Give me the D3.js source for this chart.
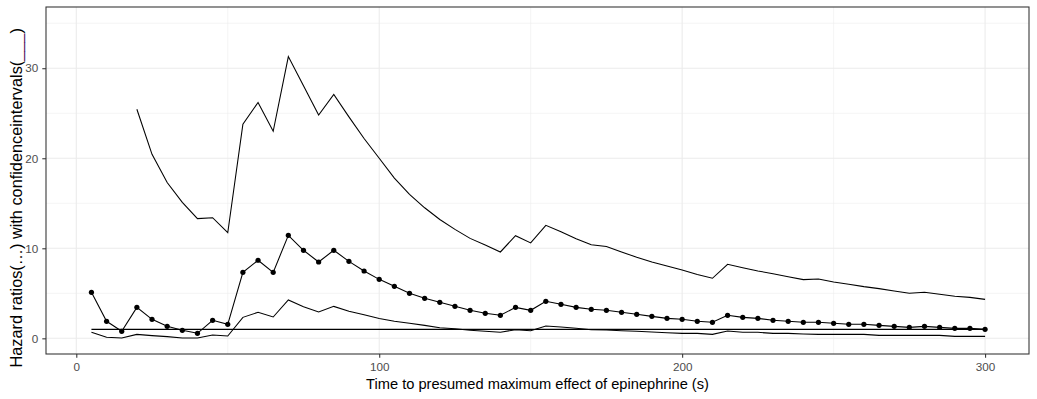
<!DOCTYPE html>
<html>
<head>
<meta charset="utf-8">
<title>Hazard ratios</title>
<script src="https://cdn.jsdelivr.net/npm/d3@7"></script>
<style>
	body { margin: 0; background: #fff; }
	svg { display: block; font-family: "Liberation Sans", Arial, sans-serif; }
</style>
</head>
<body>
<div id="chart"></div>
<script>
	// time points (s)
	var times = d3.range(5, 301, 5);

	var hr = [5.11, 1.89, 0.78, 3.44, 2.11, 1.33, 0.89, 0.56, 2.0, 1.56,
		7.33, 8.67, 7.33, 11.44, 9.78, 8.48, 9.78, 8.55, 7.48, 6.55,
		5.78, 5.0, 4.44, 4.0, 3.56, 3.11, 2.78, 2.56, 3.44, 3.11,
		4.11, 3.78, 3.44, 3.22, 3.11, 2.89, 2.67, 2.44, 2.22, 2.11,
		1.89, 1.78, 2.56, 2.33, 2.22, 2.0, 1.89, 1.78, 1.78, 1.67,
		1.56, 1.56, 1.44, 1.33, 1.22, 1.33, 1.22, 1.11, 1.11, 1.0];

	var lower = [0.67, 0.11, 0.03, 0.44, 0.3, 0.19, 0.04, 0.04, 0.37, 0.26,
		2.33, 2.89, 2.37, 4.26, 3.52, 2.93, 3.55, 3.0, 2.63, 2.2,
		1.89, 1.67, 1.44, 1.18, 1.07, 0.89, 0.78, 0.67, 0.96, 0.85,
		1.37, 1.26, 1.11, 0.96, 0.92, 0.85, 0.78, 0.7, 0.63, 0.55,
		0.55, 0.44, 0.81, 0.67, 0.67, 0.55, 0.55, 0.48, 0.44, 0.44,
		0.44, 0.44, 0.33, 0.33, 0.33, 0.33, 0.33, 0.22, 0.22, 0.22];

	// upper bound is missing for the first three time points
	var upper = [null, null, null, 25.44, 20.44, 17.3, 15.1, 13.3, 13.4, 11.73,
		23.78, 26.2, 23.0, 31.3, 28.05, 24.8, 27.1, 24.6, 22.2, 20.0,
		17.8, 16.0, 14.5, 13.2, 12.1, 11.1, 10.37, 9.59, 11.4, 10.6,
		12.55, 11.85, 11.07, 10.4, 10.2, 9.6, 9.0, 8.48, 8.03, 7.6,
		7.1, 6.67, 8.22, 7.85, 7.48, 7.18, 6.85, 6.52, 6.59, 6.26,
		6.0, 5.74, 5.52, 5.26, 5.0, 5.11, 4.89, 4.67, 4.55, 4.33];

	var xTicks = [0, 100, 200, 300],
		xMinor = [50, 150, 250],
		yTicks = [0, 10, 20, 30],
		yMinor = [5, 15, 25, 35];

	var width = 1037,
		height = 399,
		panel = {left: 46, right: 1029, top: 7, bottom: 354};

	var x = d3.scaleLinear().domain([-10, 314.5]).range([panel.left, panel.right]),
		y = d3.scaleLinear().domain([-1.74, 36.8]).range([panel.bottom, panel.top]);

	var svg = d3.select('#chart').append('svg')
		.attr('width', width)
		.attr('height', height);

	// grid
	var grid = svg.append('g');
	grid.selectAll('line.ymin').data(yMinor).enter().append('line')
		.attr('x1', panel.left).attr('x2', panel.right)
		.attr('y1', function(d) { return y(d); }).attr('y2', function(d) { return y(d); })
		.attr('stroke', '#ebebeb').attr('stroke-width', 0.55);
	grid.selectAll('line.xmin').data(xMinor).enter().append('line')
		.attr('y1', panel.top).attr('y2', panel.bottom)
		.attr('x1', function(d) { return x(d); }).attr('x2', function(d) { return x(d); })
		.attr('stroke', '#ebebeb').attr('stroke-width', 0.55);
	grid.selectAll('line.ymaj').data(yTicks).enter().append('line')
		.attr('x1', panel.left).attr('x2', panel.right)
		.attr('y1', function(d) { return y(d); }).attr('y2', function(d) { return y(d); })
		.attr('stroke', '#ebebeb').attr('stroke-width', 1.07);
	grid.selectAll('line.xmaj').data(xTicks).enter().append('line')
		.attr('y1', panel.top).attr('y2', panel.bottom)
		.attr('x1', function(d) { return x(d); }).attr('x2', function(d) { return x(d); })
		.attr('stroke', '#ebebeb').attr('stroke-width', 1.07);

	// reference line at HR = 1
	svg.append('line')
		.attr('x1', x(times[0])).attr('x2', x(times[times.length - 1]))
		.attr('y1', y(1)).attr('y2', y(1))
		.attr('stroke', '#000').attr('stroke-width', 1.1);

	function series(vals) {
		return d3.line()
			.defined(function(d, i) { return vals[i] != null; })
			.x(function(d) { return x(d); })
			.y(function(d, i) { return y(vals[i]); })(times);
	}

	[lower, upper, hr].forEach(function(vals) {
		svg.append('path')
			.attr('d', series(vals))
			.attr('fill', 'none')
			.attr('stroke', '#000')
			.attr('stroke-width', 1.07);
	});

	svg.selectAll('circle.pt').data(times).enter().append('circle')
		.attr('cx', function(d) { return x(d); })
		.attr('cy', function(d, i) { return y(hr[i]); })
		.attr('r', 2.6)
		.attr('fill', '#000');

	// panel border
	svg.append('rect')
		.attr('x', panel.left).attr('y', panel.top)
		.attr('width', panel.right - panel.left).attr('height', panel.bottom - panel.top)
		.attr('fill', 'none').attr('stroke', '#333').attr('stroke-width', 1.07);

	// axes
	var xAxis = svg.append('g')
		.attr('transform', 'translate(0,' + panel.bottom + ')')
		.call(d3.axisBottom(x).tickValues(xTicks).tickSize(3.7).tickPadding(5));
	var yAxis = svg.append('g')
		.attr('transform', 'translate(' + panel.left + ',0)')
		.call(d3.axisLeft(y).tickValues(yTicks).tickSize(3.7).tickPadding(4));

	[xAxis, yAxis].forEach(function(g) {
		g.select('.domain').remove();
		g.selectAll('.tick line').attr('stroke', '#333').attr('stroke-width', 1.07);
		g.selectAll('.tick text')
			.attr('fill', '#4d4d4d')
			.style('font-size', '11.7px')
			.style('font-family', '"Liberation Sans", Arial, sans-serif');
	});

	// titles
	svg.append('text')
		.attr('x', (panel.left + panel.right) / 2)
		.attr('y', 389)
		.attr('text-anchor', 'middle')
		.style('font-size', '14.67px')
		.text('Time to presumed maximum effect of epinephrine (s)');

	var yTitle = svg.append('text')
		.attr('transform', 'translate(22,367.5) rotate(-90)')
		.attr('text-anchor', 'start')
		.style('font-size', '16.3px');
	yTitle.append('tspan').text('Hazard ratios(\u2026) with confidenceintervals(');
	yTitle.append('tspan').attr('fill', '#4b0f5c').text('___');
	yTitle.append('tspan').text(')');
</script>
</body>
</html>
